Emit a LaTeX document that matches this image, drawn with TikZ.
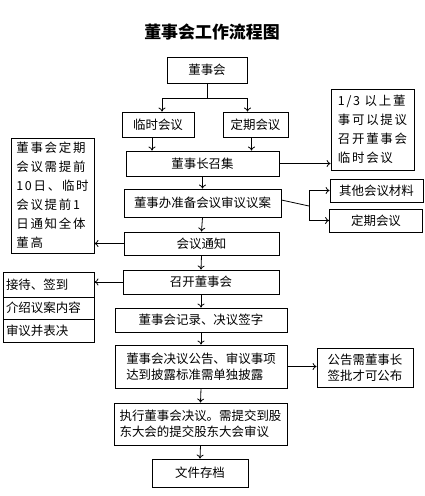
\documentclass[tikz,border=0pt]{standalone}
\usepackage{fontspec}
\setmainfont{Noto Sans CJK SC}
\newfontfamily\spaced{Noto Sans CJK SC}[LetterSpace=14]
\usetikzlibrary{arrows.meta}
\begin{document}
\begin{tikzpicture}[x=1bp,y=-1bp,
  box/.style={draw,line width=0.8bp,inner sep=0pt,font=\fontsize{12.5}{16}\selectfont,align=center},
  arr/.style={line width=0.8bp,-{To[length=4bp,width=7bp]}},
  ln/.style={line width=0.8bp}]
\useasboundingbox (0,0) rectangle (424,496);
\node[font=\fontsize{17}{20}\selectfont\bfseries] (title) at (212,32) {董事会工作流程图};
\node[box,minimum width=80bp,minimum height=26bp] (dsh) at (207,70) {董事会};
\node[box,minimum width=72bp,minimum height=25bp] (lsh) at (158,124.5) {临时会议};
\node[box,minimum width=65bp,minimum height=25bp] (dq) at (255.5,124.5) {定期会议};
\node[box,minimum width=83bp,minimum height=81bp,align=left,font=\fontsize{12.5}{19}\selectfont\spaced] (third) at (372.5,129.5) {1/3 以上董\\事可以提议\\召开董事会\\临时会议};
\node[box,minimum width=153bp,minimum height=25bp] (zj) at (202.5,163.5) {董事长召集};
\node[box,minimum width=157bp,minimum height=28bp] (zb) at (202.5,203) {董事办准备会议审议议案};
\node[box,minimum width=93bp,minimum height=23bp] (qt) at (376.5,190.5) {其他会议材料};
\node[box,minimum width=93bp,minimum height=23bp] (dq2) at (376,220.5) {定期会议};
\node[box,minimum width=83bp,minimum height=115bp,align=left,font=\fontsize{12.5}{19}\selectfont\spaced] (note) at (52.5,195.5) {董事会定期\\会议需提前\\10日、临时\\会议提前1\\日通知全体\\董高};
\node[box,minimum width=155bp,minimum height=23bp] (tz) at (201.5,243.5) {会议通知};
\node[box,minimum width=156bp,minimum height=24bp] (kk) at (201,282) {召开董事会};
\node[box,minimum width=91bp,minimum height=25bp,text width=85bp,align=left] (l1) at (48.5,284.5) {接待、签到};
\node[box,minimum width=91bp,minimum height=22bp,text width=85bp,align=left] (l2) at (48.5,308) {介绍议案内容};
\node[box,minimum width=91bp,minimum height=23bp,text width=85bp,align=left] (l3) at (48.5,330.5) {审议并表决};
\node[box,minimum width=172bp,minimum height=24bp] (jl) at (201,320) {董事会记录、决议签字};
\node[box,minimum width=172bp,minimum height=43bp,align=left] (gg) at (201,366.5) {董事会决议公告、审议事项\\达到披露标准需单独披露};
\node[box,minimum width=96bp,minimum height=39bp] (qp) at (365,367.5) {公告需董事长\\签批才可公布};
\node[box,minimum width=173bp,minimum height=42bp,align=left] (zx) at (200.5,424) {执行董事会决议。需提交到股\\东大会的提交股东大会审议};
\node[box,minimum width=96bp,minimum height=28bp] (wj) at (200,473) {文件存档};
% connectors
\coordinate (br) at (207,98);
\draw[ln] (dsh.south) -- (br);
\draw[arr] (br) -| ([xshift=4bp]lsh.north);
\draw[arr] (br) -| ([xshift=-8bp]dq.north);
\draw[arr] ([xshift=-6bp]lsh.south) -- ([xshift=-6bp]lsh.south |- zj.north);
\draw[arr] ([xshift=-4bp]dq.south) -- ([xshift=-4bp]dq.south |- zj.north);
\draw[arr] (zj.east) -- (zj.east -| third.west);
\draw[arr] (zj.south) -- (zb.north);
\coordinate (bj) at (309,206);
\draw[ln] ([yshift=3bp]zb.east) -- (bj);
\draw[arr] (bj) |- (qt.west);
\draw[arr] (bj) |- (dq2.west);
\draw[arr] (zb.south) -- (tz.north);
\draw[arr] (tz.west) -- (tz.west -| note.east);
\draw[arr] (tz.south) -- (kk.north);
\draw[arr] (kk.west) -- (kk.west -| l1.east);
\draw[arr] (kk.south) -- (jl.north);
\draw[arr] (jl.south) -- (gg.north);
\draw[arr] (gg.east) -- (gg.east -| qp.west);
\draw[arr] (gg.south) -- (zx.north);
\draw[arr] (zx.south) -- (wj.north);
\end{tikzpicture}
\end{document}
